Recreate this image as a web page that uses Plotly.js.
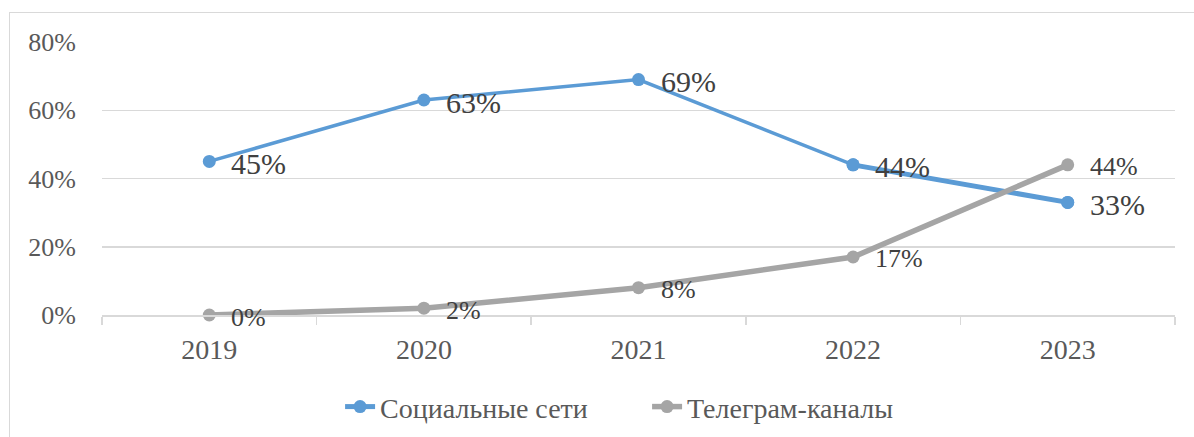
<!DOCTYPE html>
<html>
<head>
<meta charset="utf-8">
<script src="https://cdn.plot.ly/plotly-3.0.1.min.js"></script>
<style>
  html, body { margin: 0; padding: 0; background: #ffffff; overflow: hidden; }
  #frame { position: absolute; left: 9px; top: 12px; width: 1300px; height: 500px;
           border: 1.5px solid #D9D9D9; box-sizing: border-box; }
  #chart { position: absolute; left: 0; top: 0; width: 1194px; height: 437px; }
</style>
</head>
<body>
<div id="frame"></div>
<div id="chart"></div>
<script>
// ---- data ----
const years = ['2019', '2020', '2021', '2022', '2023'];
const socialName = 'Социальные сети';
const socialValues = [0.45, 0.63, 0.69, 0.44, 0.33];
const telegramName = 'Телеграм-каналы';
const telegramValues = [0.00, 0.02, 0.08, 0.17, 0.44];
const yTickValues = [0, 0.2, 0.4, 0.6, 0.8];
const yTickLabels = ['0%', '20%', '40%', '60%', '80%'];

const BLUE = '#5B9BD5';
const GRAY = '#A5A5A5';
const FONT = 'Liberation Serif';

const fmt = v => Math.round(v * 100) + '%';

const traces = [
  {
    x: years, y: socialValues, type: 'scatter', mode: 'lines+markers',
    line: { color: BLUE, width: 3.5 },
    marker: { color: BLUE, size: 13 },
    showlegend: false, hoverinfo: 'skip', cliponaxis: false
  },
  {
    x: years.slice(3), y: socialValues.slice(3), type: 'scatter', mode: 'lines+markers',
    name: socialName,
    line: { color: BLUE, width: 5 },
    marker: { color: BLUE, size: 13 },
    hoverinfo: 'skip', cliponaxis: false
  },
  {
    x: years, y: telegramValues, type: 'scatter', mode: 'lines+markers',
    name: telegramName,
    line: { color: GRAY, width: 5.5 },
    marker: { color: GRAY, size: 13 },
    hoverinfo: 'skip', cliponaxis: false
  }
];

// category axis: annotations positioned by category index
const annotations = [];
years.forEach((yr, i) => {
  annotations.push({
    x: i, y: socialValues[i], xref: 'x', yref: 'y', text: fmt(socialValues[i]),
    showarrow: false, xanchor: 'left', yanchor: 'middle', xshift: 20, yshift: -2,
    font: { family: FONT, size: 30, color: '#404040' }
  });
  annotations.push({
    x: i, y: telegramValues[i], xref: 'x', yref: 'y', text: fmt(telegramValues[i]),
    showarrow: false, xanchor: 'left', yanchor: 'middle', xshift: 20, yshift: -2,
    font: { family: FONT, size: 26, color: '#404040' }
  });
});

const layout = {
  width: 1194, height: 437,
  margin: { l: 102, r: 19, t: 42, b: 122, pad: 0, autoexpand: false },
  paper_bgcolor: 'rgba(0,0,0,0)',
  plot_bgcolor: 'rgba(0,0,0,0)',
  font: { family: FONT, size: 26, color: '#595959' },
  showlegend: true,
  legend: {
    orientation: 'h', x: 0.508, xanchor: 'center', y: -0.245, yanchor: 'top',
    font: { family: FONT, size: 28, color: '#595959' },
    entrywidth: 262, entrywidthmode: 'pixels',
    traceorder: 'normal', bgcolor: 'rgba(0,0,0,0)'
  },
  xaxis: {
    type: 'category', range: [-0.5, 4.5], fixedrange: true, automargin: false,
    showgrid: false, zeroline: false,
    showline: true, linecolor: '#D9D9D9', linewidth: 1.5,
    ticks: 'outside', tickson: 'boundaries', ticklen: 8, tickcolor: '#D9D9D9', tickwidth: 1.5,
    ticklabelstandoff: 9,
    tickfont: { family: FONT, size: 28, color: '#595959' }
  },
  yaxis: {
    range: [0, 0.8], fixedrange: true, automargin: false,
    tickvals: yTickValues, ticktext: yTickLabels,
    showgrid: true, gridcolor: '#D9D9D9', gridwidth: 1.5,
    zeroline: false, showline: false, ticks: '',
    ticklabelstandoff: 25,
    tickfont: { family: FONT, size: 26, color: '#595959' }
  },
  annotations: annotations
};

Plotly.newPlot('chart', traces, layout, { displayModeBar: false, staticPlot: true });
</script>
</body>
</html>
